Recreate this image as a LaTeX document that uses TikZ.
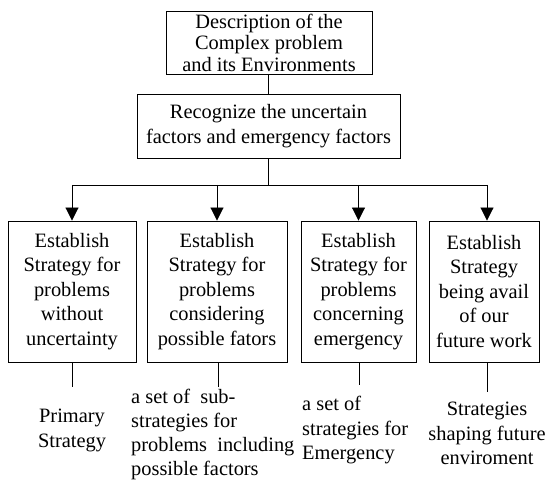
\documentclass[tikz,border=0pt]{standalone}
\usepackage{fontspec}
\setmainfont{Liberation Serif}
\usetikzlibrary{arrows.meta}
\begin{document}
\begin{tikzpicture}[x=1pt,y=-1pt,
  box/.style={draw, line width=0.9pt, inner sep=0pt, align=center,
    font=\fontsize{20.4}{24.5}\selectfont},
  topbox/.style={box, font=\fontsize{20.4}{21.5}\selectfont},
  stratbox/.style={box, minimum height=141},
  lbl/.style={inner sep=0pt, font=\fontsize{20.4}{24.5}\selectfont},
  link/.style={line width=0.9pt},
  arr/.style={link, -{Triangle[length=13pt,width=13pt]}}]
\useasboundingbox (0,0) rectangle (547,481);

% problem description and factor recognition
\node[topbox, minimum width=206, minimum height=63] (desc) at (269,42.5)
  {Description of the\\Complex problem\\and its Environments};
\node[box, minimum width=263, minimum height=64] (recog) at (268.5,126)
  {Recognize the uncertain\\factors and emergency factors};

% the four strategy boxes
\node[stratbox, minimum width=128] (s1) at (72,291.5)
  {Establish\\Strategy for\\problems\\without\\uncertainty};
\node[stratbox, minimum width=140] (s2) at (217,291.5)
  {Establish\\Strategy for\\problems\\considering\\possible fators};
\node[stratbox, minimum width=115] (s3) at (358.5,291.5)
  {Establish\\Strategy for\\problems\\concerning\\emergency};
\node[stratbox, minimum width=110] (s4) at (484,291.5)
  {Establish\\Strategy\\being avail\\of our\\future work};

% resulting strategies
\node[lbl, align=center] (r1) at (72,430.5) {Primary\\Strategy};
\node[lbl, align=left, anchor=west, font=\fontsize{20.4}{24}\selectfont] (r2) at (131,434)
  {a set of~ sub-\\strategies for\\problems~ including\\possible factors};
\node[lbl, align=left, anchor=west] (r3) at (302,430.5) {a set of\\strategies for\\Emergency};
\node[lbl, align=center] (r4) at (487,433.5) {Strategies\\shaping future\\enviroment};

% connectors
\coordinate (bus) at (268,185);
\coordinate (a4) at ([xshift=3pt]s4.north);
\coordinate (e1) at (72,387);
\coordinate (e2) at (218,387);
\coordinate (e3) at (359,385);
\coordinate (e4) at (487,392);

\draw[link] (desc.south -| bus) -- (recog.north -| bus);
\draw[link] (recog.south -| bus) -- (bus);
\draw[link] (bus -| s1.north) -- (bus -| a4);
\draw[arr] (bus -| s1.north) -- (s1.north);
\draw[arr] (bus -| s2.north) -- (s2.north);
\draw[arr] (bus -| s3.north) -- (s3.north);
\draw[arr] (bus -| a4) -- (a4);

\draw[link] (s1.south) -- (e1);
\draw[link] (s2.south -| e2) -- (e2);
\draw[link] (s3.south -| e3) -- (e3);
\draw[link] (s4.south -| e4) -- (e4);
\end{tikzpicture}
\end{document}
